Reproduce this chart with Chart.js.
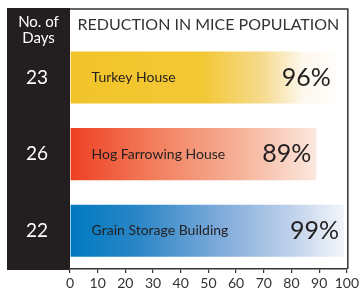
<!DOCTYPE html>
<html>
<head>
<meta charset="utf-8">
<script src="https://cdn.jsdelivr.net/npm/chart.js@4"></script>
<style>
  html, body { margin: 0; padding: 0; background: #fff; }
</style>
</head>
<body>
<canvas id="miceChart" width="362" height="288"></canvas>
<script>
// données du graphique
const buildings = ["Turkey House", "Hog Farrowing House", "Grain Storage Building"];
const days = [23, 26, 22];
const reduction = [96, 89, 99];
const xTicks = [0, 10, 20, 30, 40, 50, 60, 70, 80, 90, 100];

// dégradés de chaque barre (vers le blanc)
const barStops = [
    [[0, "#F2C42A"], [0.5, "#F3C835"], [0.72, "#F6DA8C"], [0.88, "#FDF8EE"], [1, "#FFFDFB"]],
    [[0, "#EE4023"], [0.35, "#F27F5E"], [0.7, "#F6B49B"], [1, "#FCE8DF"]],
    [[0, "#0079C0"], [0.25, "#2B86C6"], [0.55, "#7FABDA"], [0.8, "#BDD0EA"], [1, "#F2F5FB"]]
];

const FONT = "Lato, 'Open Sans', sans-serif";

const panelPlugin = {
    id: "panel",
    beforeDraw(chart) {
        const c = chart.ctx;
        const area = chart.chartArea;
        c.save();
        c.fillStyle = "#fff";
        c.fillRect(0, 0, chart.width, chart.height);
        // colonne noire à gauche
        c.fillStyle = "#231F20";
        c.fillRect(7, 8, area.left - 7, area.bottom + 1 - 8);
        c.fillStyle = "#fff";
        c.font = "15px " + FONT;
        c.textAlign = "center";
        c.textBaseline = "middle";
        const cx = (7 + area.left) / 2;
        c.fillText("No. of", cx, 22);
        c.fillText("Days", cx, 38);
        c.restore();
    },
    afterDraw(chart) {
        const c = chart.ctx;
        const area = chart.chartArea;
        c.save();
        c.strokeStyle = "#333";
        c.lineWidth = 1.5;
        c.beginPath();
        c.moveTo(area.left, 9);
        c.lineTo(area.right + 1, 9);
        c.lineTo(area.right + 1, area.bottom);
        c.stroke();
        c.restore();
    }
};

const labelPlugin = {
    id: "barLabels",
    afterDatasetsDraw(chart) {
        const c = chart.ctx;
        const meta = chart.getDatasetMeta(0);
        c.save();
        c.fillStyle = "#231F20";
        c.textBaseline = "middle";
        meta.data.forEach(function (bar, i) {
            c.font = "14px " + FONT;
            c.textAlign = "left";
            c.fillText(buildings[i], bar.base + 21, bar.y);
            c.font = "25px " + FONT;
            c.textAlign = "right";
            c.fillText(reduction[i] + "%", bar.x - 5, bar.y);
        });
        c.restore();
    }
};

const ctx = document.getElementById("miceChart").getContext("2d");

new Chart(ctx, {
    type: "bar",
    data: {
        labels: buildings,
        datasets: [{
            data: reduction,
            barPercentage: 0.68,
            categoryPercentage: 1,
            borderWidth: 0,
            backgroundColor: function (context) {
                const chart = context.chart;
                if (!chart.chartArea) return barStops[context.dataIndex][0][1];
                const x = chart.scales.x;
                const g = chart.ctx.createLinearGradient(x.getPixelForValue(0), 0, x.getPixelForValue(context.raw), 0);
                barStops[context.dataIndex].forEach(function (s) { g.addColorStop(s[0], s[1]); });
                return g;
            }
        }]
    },
    options: {
        indexAxis: "y",
        responsive: false,
        animation: false,
        layout: { padding: { left: 7, top: 9, right: 11, bottom: 0 } },
        plugins: {
            legend: { display: false },
            tooltip: { enabled: false },
            title: {
                display: true,
                text: "REDUCTION IN MICE POPULATION",
                fullSize: false,
                color: "#333",
                font: { family: FONT, size: 16, weight: "normal" },
                padding: { top: 6, bottom: 5 }
            }
        },
        scales: {
            x: {
                min: 0,
                max: 100,
                afterBuildTicks: function (scale) {
                    scale.ticks = xTicks.map(function (v) { return { value: v }; });
                },
                afterFit: function (scale) { scale.height = 19; },
                grid: { drawOnChartArea: false, drawTicks: true, tickLength: 4, color: "#333", lineWidth: 1.2 },
                border: { color: "#333", width: 1.5 },
                ticks: { color: "#333", padding: 3, maxRotation: 0, font: { family: FONT, size: 14, lineHeight: 1 } }
            },
            y: {
                afterFit: function (scale) {
                    scale.width = 63;
                    scale.paddingTop = 0;
                    scale.paddingBottom = 0;
                },
                grid: { display: false, drawTicks: false },
                border: { display: false },
                ticks: {
                    color: "#fff",
                    padding: 22,
                    font: { family: FONT, size: 19 },
                    callback: function (v, i) { return days[i]; }
                }
            }
        }
    },
    plugins: [panelPlugin, labelPlugin]
});
</script>
</body>
</html>
